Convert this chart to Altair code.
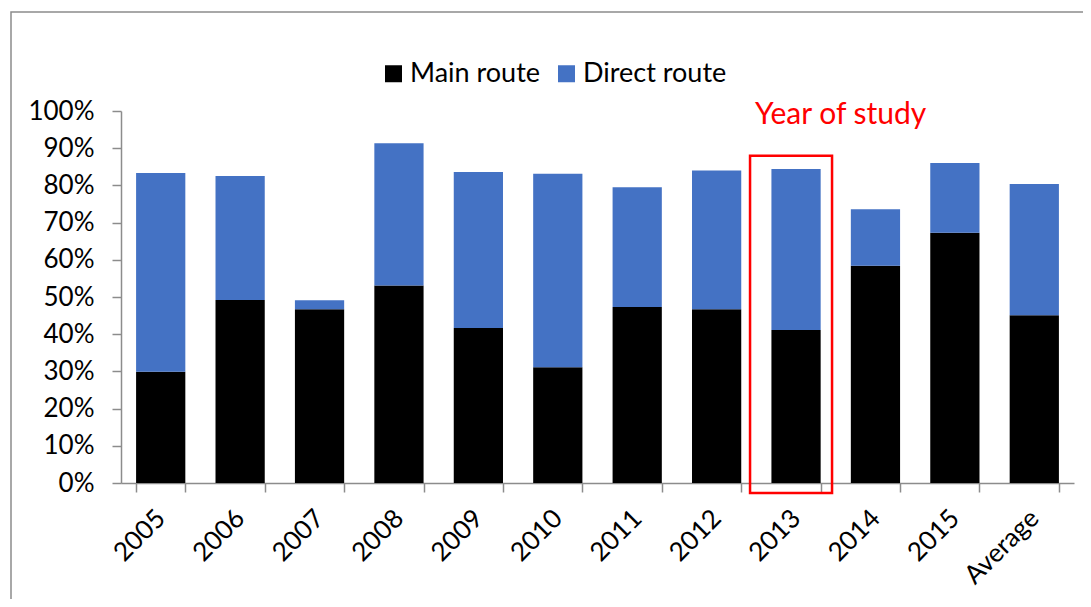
import altair as alt
import pandas as pd

years = ["2005", "2006", "2007", "2008", "2009", "2010", "2011", "2012", "2013", "2014", "2015", "Average"]
main_route = [0.299, 0.492, 0.467, 0.531, 0.417, 0.311, 0.473, 0.467, 0.411, 0.584, 0.673, 0.451]
direct_route = [0.534, 0.333, 0.024, 0.382, 0.419, 0.520, 0.322, 0.373, 0.433, 0.152, 0.187, 0.353]
series = ["Main route", "Direct route"]
colors = ["#000000", "#4472C4"]
y_ticks = [0.0, 0.1, 0.2, 0.3, 0.4, 0.5, 0.6, 0.7, 0.8, 0.9, 1.0]

highlight_year = ["2013"]
highlight_top = [0.88]
highlight_bottom = [-0.027]
annotation_text = ["Year of study"]
annotation_y = [0.965]

FONT = "Lato"

rows = []
for i, y in enumerate(years):
    rows.append({"year": y, "series": series[0], "value": main_route[i], "ord": 0})
    rows.append({"year": y, "series": series[1], "value": direct_route[i], "ord": 1})
df = pd.DataFrame(rows)

xscale = alt.Scale(domain=years, paddingInner=0.38, paddingOuter=0.19, round=False)
yscale = alt.Scale(domain=[0, 1], nice=False)

x_axis = alt.Axis(title=None, labelAngle=-45, labelAlign="right", labelBaseline="middle",
                  tickBand="extent", tickSize=9, labelPadding=22, labelFontSize=26,
                  labelFont=FONT, labelColor="#000000", domainColor="#8c8c8c",
                  tickColor="#8c8c8c", domainWidth=1.5, tickWidth=1.5, labelOverlap=False)
y_axis = alt.Axis(title=None, format=".0%", values=y_ticks,
                  grid=False, tickSize=9, labelPadding=18, labelFontSize=26,
                  labelFont=FONT, labelColor="#000000", domainColor="#8c8c8c",
                  tickColor="#8c8c8c", domainWidth=1.5, tickWidth=1.5, labelOverlap=False)

bars = alt.Chart(df).mark_bar().encode(
    x=alt.X("year:N", scale=xscale, sort=years, axis=x_axis),
    y=alt.Y("value:Q", stack="zero", scale=yscale, axis=y_axis),
    color=alt.Color("series:N", scale=alt.Scale(domain=series, range=colors),
                    legend=alt.Legend(title=None, orient="none", direction="horizontal",
                                      legendX=259, legendY=-51, symbolType="square",
                                      symbolSize=289, symbolStrokeWidth=0, labelFontSize=27,
                                      labelFont=FONT, labelColor="#000000", labelOffset=3,
                                      columnPadding=12)),
    order=alt.Order("ord:Q"),
)

hl_df = pd.DataFrame({"year": highlight_year, "top": highlight_top, "bottom": highlight_bottom})
box = alt.Chart(hl_df).mark_bar(size=82, xOffset=-5, fill=None, filled=False,
                                stroke="#FF0000", strokeWidth=2.5).encode(
    x=alt.X("year:N", scale=xscale, sort=years, axis=x_axis),
    y=alt.Y("top:Q", scale=yscale, axis=y_axis),
    y2="bottom:Q",
)

ann_df = pd.DataFrame({"year": highlight_year, "y": annotation_y, "t": annotation_text})
label = alt.Chart(ann_df).mark_text(align="left", baseline="alphabetic", dx=-41,
                                    fontSize=30, font=FONT, color="#FF0000").encode(
    x=alt.X("year:N", scale=xscale, sort=years, axis=x_axis),
    y=alt.Y("y:Q", scale=yscale, axis=y_axis),
    text="t:N",
)

frame = alt.Chart(pd.DataFrame({"a": [0]})).mark_rect(fill=None, filled=False,
                                                      stroke="#8c8c8c", strokeWidth=1.5).encode(
    x=alt.value(-110), x2=alt.value(1000), y=alt.value(-99), y2=alt.value(540)
)

chart = alt.layer(frame, bars, box, label).properties(
    width=953, height=372,
    padding={"left": 113, "top": 103, "right": 9, "bottom": 116},
    autosize=alt.AutoSizeParams(type="none"),
    background="white",
).configure_view(stroke="transparent", strokeWidth=0)

chart.save("out.html", embed_options={"renderer": "svg", "actions": False})
